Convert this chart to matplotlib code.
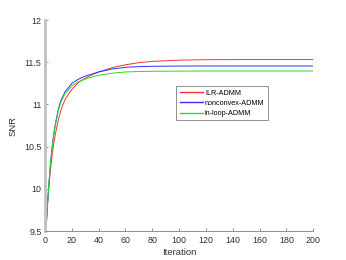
import matplotlib
matplotlib.use("Agg")
import matplotlib.pyplot as plt

plt.rcParams['font.family'] = ['Liberation Sans', 'DejaVu Sans']

iters = [1, 2, 3, 4, 5, 6, 7, 8, 10, 12, 15, 20, 25, 30, 35, 40, 50, 60, 70, 80, 100, 120, 150, 200]
ilr = [9.58, 9.83, 10.04, 10.21, 10.36, 10.48, 10.58, 10.67, 10.82, 10.94, 11.06, 11.18, 11.26, 11.31, 11.35,
       11.385, 11.435, 11.47, 11.495, 11.51, 11.525, 11.53, 11.532, 11.532]
nonconvex = [9.58, 9.85, 10.08, 10.28, 10.45, 10.59, 10.70, 10.79, 10.95, 11.05, 11.15, 11.25, 11.30, 11.335, 11.36,
             11.385, 11.42, 11.44, 11.448, 11.452, 11.455, 11.456, 11.456, 11.456]
inloop = [9.58, 9.85, 10.08, 10.28, 10.44, 10.57, 10.68, 10.77, 10.93, 11.03, 11.13, 11.22, 11.27, 11.30, 11.325,
          11.345, 11.37, 11.385, 11.39, 11.393, 11.395, 11.396, 11.396, 11.396]
labels = ['ILR-ADMM', 'nonconvex-ADMM', 'in-loop-ADMM']
xticks = list(range(0, 201, 20))
yticks = [9.5, 10, 10.5, 11, 11.5, 12]

fig = plt.figure(figsize=(3.46, 2.6), dpi=100)
ax = fig.add_axes([0.130, 0.111, 0.775, 0.812])
ax.plot(iters, ilr, color='#ff3030', lw=0.7, label=labels[0])
ax.plot(iters, nonconvex, color='#3030ff', lw=0.7, label=labels[1])
ax.plot(iters, inloop, color='#20e020', lw=0.7, label=labels[2])
ax.set_xlim(0, 200)
ax.set_ylim(9.5, 12)
ax.set_xticks(xticks)
ax.set_yticks(yticks)
ax.set_yticklabels(['9.5', '10', '10.5', '11', '11.5', '12'])
ax.tick_params(direction='in', length=2.5, width=0.6, labelsize=6.4, color='#808080',
               labelcolor='#303030')
ax.tick_params(axis='x', pad=3.5)
ax.tick_params(axis='y', pad=2.5)
for s in ['top', 'right']:
    ax.spines[s].set_visible(False)
ax.spines['left'].set_color('#c0c0c0')
ax.spines['left'].set_linewidth(2.0)
ax.spines['bottom'].set_color('#909090')
ax.spines['bottom'].set_linewidth(0.7)
ax.set_xlabel('Iteration', fontsize=6.8, color='#303030', labelpad=2.5)
ax.set_ylabel('SNR', fontsize=6.8, color='#303030', labelpad=5)
leg = ax.legend(loc='upper left', bbox_to_anchor=(0.49, 0.686), fontsize=5.2, frameon=True,
                fancybox=False, handlelength=3.2, handletextpad=0.3, borderpad=0.45,
                labelspacing=0.45, borderaxespad=0)
for ln in leg.get_lines():
    ln.set_linewidth(1.0)
leg.get_frame().set_edgecolor('#404040')
leg.get_frame().set_linewidth(0.5)
fig.savefig('out.png', dpi=100)
